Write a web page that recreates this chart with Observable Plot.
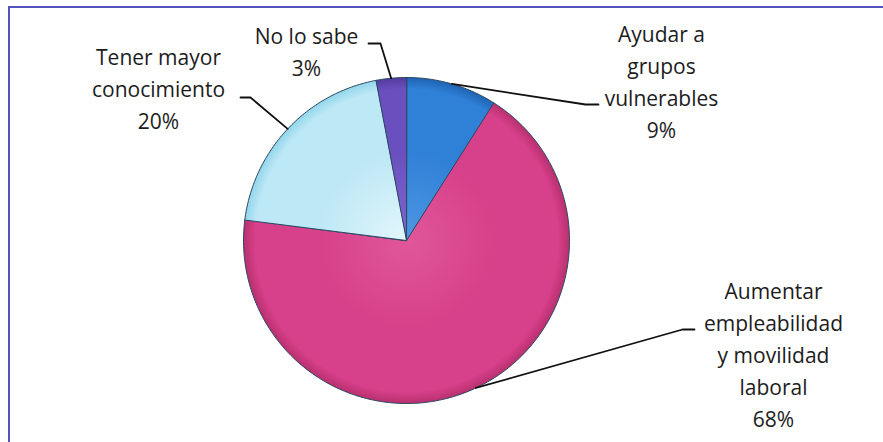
<!DOCTYPE html>
<html>
<head>
<meta charset="utf-8">
<script src="https://cdn.jsdelivr.net/npm/d3@7"></script>
<script src="https://cdn.jsdelivr.net/npm/@observablehq/plot@0.6"></script>
<style>
  html, body { margin: 0; padding: 0; background: #fff; overflow: hidden; }
  #wrap { position: relative; width: 883px; height: 442px; }
  #border { position: absolute; left: 8px; top: 6px; width: 900px; height: 434px;
            border-top: 2px solid #5454c0; border-left: 2px solid #5454c0;
            border-bottom: 1px solid #f3ecc4; pointer-events: none; }
</style>
</head>
<body>
<div id="wrap"><div id="border"></div></div>
<script>
// ---- data ----
const categories = [
  "Ayudar a grupos vulnerables",
  "Aumentar empleabilidad y movilidad laboral",
  "Tener mayor conocimiento",
  "No lo sabe"
];
const values = [9, 68, 20, 3];
const labelLines = [
  ["Ayudar a", "grupos", "vulnerables"],
  ["Aumentar", "empleabilidad", "y movilidad", "laboral"],
  ["Tener mayor", "conocimiento"],
  ["No lo sabe"]
];
const colors = ["#2f80d7", "#d7408a", "#bde8f5", "#6a50be"];
const colorsLight = ["#4f97e2", "#e0579a", "#e2f6fc", "#7e66cc"];
const colorsDark = ["#1f64b4", "#b8306f", "#92d6ec", "#523c9e"];

// ---- layout (not data) ----
const W = 883, H = 442;
const cx = 406, cy = 240, R = 163;
const fontSize = 21;
const labelLayout = [
  {x: 661, yLast: 137, elbow: [[585, 104], [598, 104]]},
  {x: 773, yLast: 426, elbow: [[682, 329], [694, 329]]},
  {x: 158, yLast: 128, elbow: [[250, 97], [240, 97]]},
  {x: 306, yLast: 75,  elbow: [[380, 43], [368, 43]]}
];

const arcs = d3.pie().sort(null)(values);
const pt = (a, r) => [cx + r * Math.sin(a), cy - r * Math.cos(a)];

// slice polygons
const slicePts = [];
arcs.forEach((a, i) => {
  slicePts.push({k: categories[i], x: cx, y: cy});
  const n = Math.max(2, Math.ceil((a.endAngle - a.startAngle) / (Math.PI / 180)));
  for (let j = 0; j <= n; j++) {
    const ang = a.startAngle + (a.endAngle - a.startAngle) * j / n;
    const [x, y] = pt(ang, R);
    slicePts.push({k: categories[i], x, y});
  }
});

// leader lines
const leaderPts = [];
arcs.forEach((a, i) => {
  const mid = (a.startAngle + a.endAngle) / 2;
  const [x0, y0] = pt(mid, R);
  leaderPts.push({k: i, x: x0, y: y0});
  labelLayout[i].elbow.forEach(([x, y]) => leaderPts.push({k: i, x, y}));
});

// labels
const labels = categories.map((c, i) => ({
  text: [...labelLines[i], values[i] + "%"].join("\n"),
  x: labelLayout[i].x,
  y: labelLayout[i].yLast
}));

const plot = Plot.plot({
  width: W, height: H,
  margin: 0,
  x: {domain: [0, W], range: [0, W], axis: null},
  y: {domain: [0, H], range: [0, H], axis: null},
  color: {domain: categories, range: categories.map((c, i) => `url(#slice-grad-${i})`)},
  style: {fontFamily: "'Open Sans', sans-serif", background: "transparent"},
  marks: [
    Plot.line(slicePts, {x: "x", y: "y", z: "k", fill: "k", stroke: "#2b4862", strokeWidth: 1, curve: "linear-closed"}),
    Plot.line(leaderPts, {x: "x", y: "y", z: "k", stroke: "#111", strokeWidth: 1.8}),
    Plot.text(labels, {x: "x", y: "y", text: "text", lineAnchor: "bottom", lineHeight: 32 / fontSize,
      fontSize, fill: "#1c1c1c", textAnchor: "middle"})
  ]
});

// gradients for the slices' soft 3D shading
const svgNS = "http://www.w3.org/2000/svg";
const defs = document.createElementNS(svgNS, "defs");
colors.forEach((c, i) => {
  const g = document.createElementNS(svgNS, "radialGradient");
  g.setAttribute("id", `slice-grad-${i}`);
  g.setAttribute("gradientUnits", "userSpaceOnUse");
  g.setAttribute("cx", cx); g.setAttribute("cy", cy); g.setAttribute("r", R);
  [[0, colorsLight[i]], [0.55, c], [0.93, c], [1, colorsDark[i]]].forEach(([o, col]) => {
    const s = document.createElementNS(svgNS, "stop");
    s.setAttribute("offset", o); s.setAttribute("stop-color", col);
    g.appendChild(s);
  });
  defs.appendChild(g);
});
plot.insertBefore(defs, plot.firstChild);
document.getElementById("wrap").prepend(plot);
</script>
</body>
</html>
